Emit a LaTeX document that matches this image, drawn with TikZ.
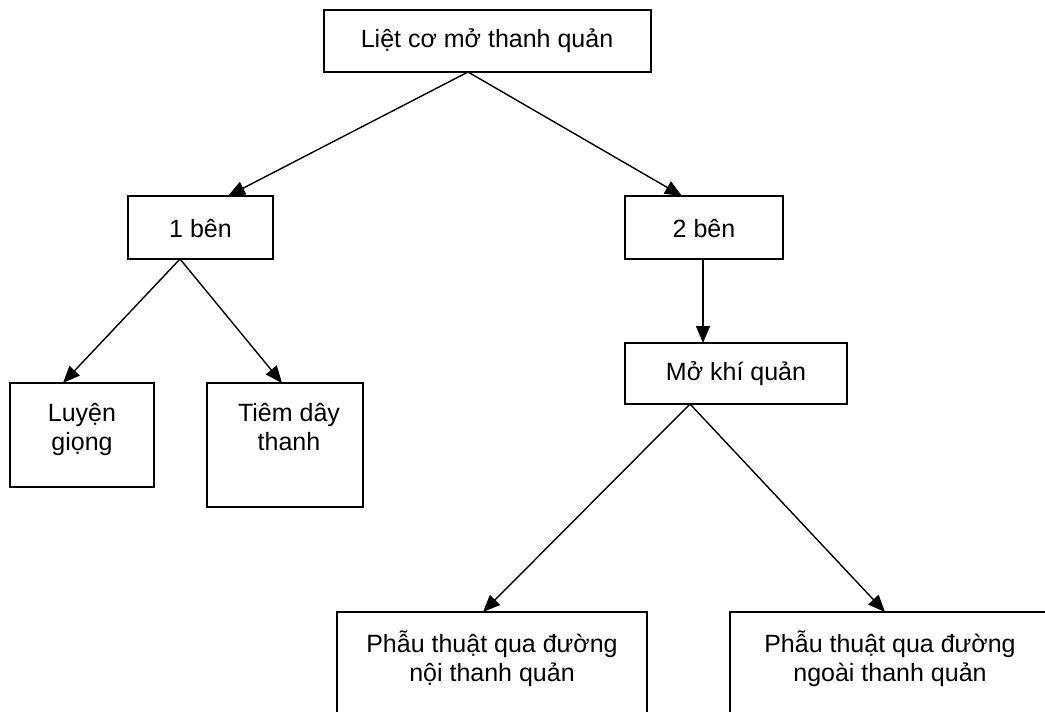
\documentclass[tikz,border=0pt]{standalone}
\usepackage{fontspec}
\setmainfont{Liberation Sans}
\usetikzlibrary{arrows.meta}
\tikzset{
  box/.style={draw, line width=1.6pt, anchor=north west, inner sep=0pt, outer sep=0pt},
  lbl/.style={font=\fontsize{25pt}{29pt}\selectfont, align=center, inner sep=0pt},
  conn/.style={line width=1.4pt, -{Triangle[length=17pt,width=14pt]}}
}
\begin{document}
\begin{tikzpicture}[x=1pt,y=-1pt]
\useasboundingbox (0,0) rectangle (1045,712);
\clip (0,0) rectangle (1045,712);
\fill[white] (0,0) rectangle (1045,712);
% boxes
\node[box, minimum width=327pt, minimum height=62pt] (top) at (324,10) {};
\node[box, minimum width=145pt, minimum height=63pt] (b1) at (128,196) {};
\node[box, minimum width=158pt, minimum height=63pt] (b2) at (625,196) {};
\node[box, minimum width=222pt, minimum height=61pt] (mo) at (625,343) {};
\node[box, minimum width=144pt, minimum height=104pt] (luyen) at (10,383) {};
\node[box, minimum width=156pt, minimum height=124pt] (tiem) at (207,383) {};
\node[box, minimum width=310pt, minimum height=150pt] (noi) at (337,612) {};
\node[box, minimum width=330pt, minimum height=150pt] (ngoai) at (730,612) {};
% labels
\node[lbl] (tTop) at ([xshift=-0.5pt]top.center) {Liệt cơ mở thanh quản};
\node[lbl] (tB1) at ([yshift=-1pt]b1.center) {1 bên};
\node[lbl] (tB2) at ([yshift=-1pt]b2.center) {2 bên};
\node[lbl] (tMo) at (mo.center) {Mở khí quản};
\node[lbl, anchor=north] (tLuyen) at ([yshift=-20pt]luyen.north) {Luyện\\giọng};
\node[lbl, anchor=north] (tTiem) at ([xshift=4pt,yshift=-20pt]tiem.north) {Tiêm dây\\thanh};
\node[lbl, anchor=north] (tNoi) at ([xshift=155pt,yshift=-19pt]noi.north west) {Phẫu thuật qua đường\\nội thanh quản};
\node[lbl, anchor=north] (tNgoai) at ([xshift=160pt,yshift=-19pt]ngoai.north west) {Phẫu thuật qua đường\\ngoài thanh quản};
% connectors
\draw[conn] ([xshift=144pt]top.south west) -- ([xshift=100pt]b1.north west);
\draw[conn] ([xshift=144pt]top.south west) -- ([xshift=57pt]b2.north west);
\draw[conn] ([xshift=52pt]b1.south west) -- ([xshift=53pt]luyen.north west);
\draw[conn] ([xshift=52pt]b1.south west) -- ([xshift=75pt]tiem.north west);
\draw[conn] ([xshift=78pt]b2.south west) -- ([xshift=78pt]mo.north west);
\draw[conn] ([xshift=65pt]mo.south west) -- ([xshift=146pt]noi.north west);
\draw[conn] ([xshift=65pt]mo.south west) -- ([xshift=155pt]ngoai.north west);
\end{tikzpicture}
\end{document}
